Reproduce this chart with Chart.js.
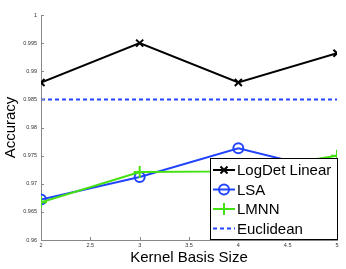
<!DOCTYPE html>
<html>
<head>
<meta charset="utf-8">
<script src="https://cdn.jsdelivr.net/npm/chart.js@4/dist/chart.umd.min.js"></script>
<style>
  html, body { margin: 0; padding: 0; background: #fff; }
  #wrap { width: 346px; height: 269px; }
</style>
</head>
<body>
<div id="wrap"><canvas id="chart" width="346" height="269"></canvas></div>
<script>
'use strict';

// values
var kernelSizes = [2, 3, 4, 5];
var logdetLinear = [0.988, 0.995, 0.988, 0.9932];
var lsa = [0.9672, 0.9712, 0.9763, 0.972];
var lmnn = [0.9667, 0.9721, 0.9722, 0.975];
var euclidean = [0.985, 0.985, 0.985, 0.985];
var xTicks = [2, 2.5, 3, 3.5, 4, 4.5, 5];

var font = 'Liberation Sans, Arial, Helvetica, sans-serif';

function points(values) {
  var out = [];
  for (var i = 0; i < kernelSizes.length; i++) {
    out.push({ x: kernelSizes[i], y: values[i] });
  }
  return out;
}

// short labels like matlab: 1, 0.995, 0.99 ...
function shortLabel(v) {
  return String(parseFloat(Number(v).toFixed(3)));
}

// ticks pointing into the plot, like matlab
var innerTicks = {
  id: 'innerTicks',
  afterDraw: function(chart) {
    var ctx = chart.ctx;
    var xs = chart.scales.x;
    var ys = chart.scales.y;
    ctx.save();
    ctx.strokeStyle = '#888';
    ctx.lineWidth = 1;
    ctx.beginPath();
    xs.ticks.forEach(function(t) {
      var px = Math.round(xs.getPixelForValue(t.value)) + 0.5;
      ctx.moveTo(px, ys.bottom);
      ctx.lineTo(px, ys.bottom - 3);
    });
    ys.ticks.forEach(function(t) {
      var py = Math.round(ys.getPixelForValue(t.value)) + 0.5;
      ctx.moveTo(xs.left, py);
      ctx.lineTo(xs.left + 3, py);
    });
    ctx.stroke();
    ctx.restore();
  }
};

// legend box in the bottom right corner of the plot
var boxLegend = {
  id: 'boxLegend',
  afterDraw: function(chart) {
    var ctx = chart.ctx;
    var area = chart.chartArea;
    var w = 128, h = 82;
    var x0 = area.right - w + 1;
    var y0 = area.bottom - h;
    ctx.save();
    ctx.fillStyle = '#fff';
    ctx.fillRect(x0, y0, w, h);
    ctx.strokeStyle = '#000';
    ctx.lineWidth = 1;
    ctx.strokeRect(x0 + 0.5, y0 + 0.5, w - 1, h - 1);
    ctx.font = '15px ' + font;
    ctx.textBaseline = 'middle';
    chart.data.datasets.forEach(function(ds, i) {
      var cy = y0 + 12 + i * 19.5;
      ctx.strokeStyle = ds.borderColor;
      ctx.lineWidth = 2;
      ctx.setLineDash(ds.borderDash || []);
      ctx.beginPath();
      ctx.moveTo(x0 + 3, cy);
      ctx.lineTo(x0 + 25, cy);
      ctx.stroke();
      ctx.setLineDash([]);
      if (ds.pointRadius > 0) {
        ctx.fillStyle = 'rgba(0,0,0,0)';
        ctx.strokeStyle = ds.pointBorderColor;
        Chart.helpers.drawPoint(ctx, {
          pointStyle: ds.pointStyle,
          radius: ds.pointRadius,
          rotation: 0,
          borderWidth: ds.pointBorderWidth
        }, x0 + 14, cy);
      }
      ctx.fillStyle = '#000';
      ctx.fillText(ds.label, x0 + 27, cy + 1);
    });
    ctx.restore();
  }
};

var ctx = document.getElementById('chart').getContext('2d');
var chart = new Chart(ctx, {
  type: 'line',
  data: {
    datasets: [{
      label: 'LogDet Linear',
      data: points(logdetLinear),
      borderColor: '#000',
      borderWidth: 2,
      pointStyle: 'crossRot',
      pointRadius: 5,
      pointBorderWidth: 2,
      pointBorderColor: '#000',
      order: 4
    }, {
      label: 'LSA',
      data: points(lsa),
      borderColor: '#2244ff',
      borderWidth: 2,
      pointStyle: 'circle',
      pointRadius: 5,
      pointBorderWidth: 2,
      pointBorderColor: '#2244ff',
      pointBackgroundColor: 'rgba(0,0,0,0)',
      order: 3
    }, {
      label: 'LMNN',
      data: points(lmnn),
      borderColor: '#44e010',
      borderWidth: 2,
      pointStyle: 'cross',
      pointRadius: 6,
      pointBorderWidth: 2,
      pointBorderColor: '#44e010',
      order: 2
    }, {
      label: 'Euclidean',
      data: points(euclidean),
      borderColor: '#2244ff',
      borderWidth: 2,
      borderDash: [4, 3],
      pointRadius: 0,
      order: 1
    }]
  },
  options: {
    responsive: false,
    animation: false,
    events: [],
    layout: { padding: { left: 0, right: 9, top: 15, bottom: 0 } },
    plugins: {
      legend: { display: false },
      tooltip: { enabled: false }
    },
    scales: {
      x: {
        type: 'linear',
        min: 2,
        max: 5,
        afterBuildTicks: function(scale) {
          scale.ticks = xTicks.map(function(v) { return { value: v }; });
        },
        afterFit: function(scale) { scale.height = 29; },
        grid: { display: true, drawOnChartArea: false, drawTicks: false },
        border: { color: '#888', width: 1 },
        ticks: { color: '#333', font: { size: 5.5, family: font }, padding: 2, maxRotation: 0,
                 callback: function(v) { return shortLabel(v); } },
        title: { display: true, text: 'Kernel Basis Size', color: '#000',
                 font: { size: 15, family: font }, padding: { top: 0, bottom: 2 } }
      },
      y: {
        min: 0.96,
        max: 1,
        ticks: { stepSize: 0.005, color: '#333', font: { size: 5.5, family: font }, padding: 4,
                 callback: function(v) { return shortLabel(v); } },
        afterFit: function(scale) { scale.width = 41; },
        grid: { display: true, drawOnChartArea: false, drawTicks: false },
        border: { color: '#888', width: 1 },
        title: { display: true, text: 'Accuracy', color: '#000',
                 font: { size: 15, family: font }, padding: { top: 2, bottom: 0 } }
      }
    }
  },
  plugins: [innerTicks, boxLegend]
});
</script>
</body>
</html>
